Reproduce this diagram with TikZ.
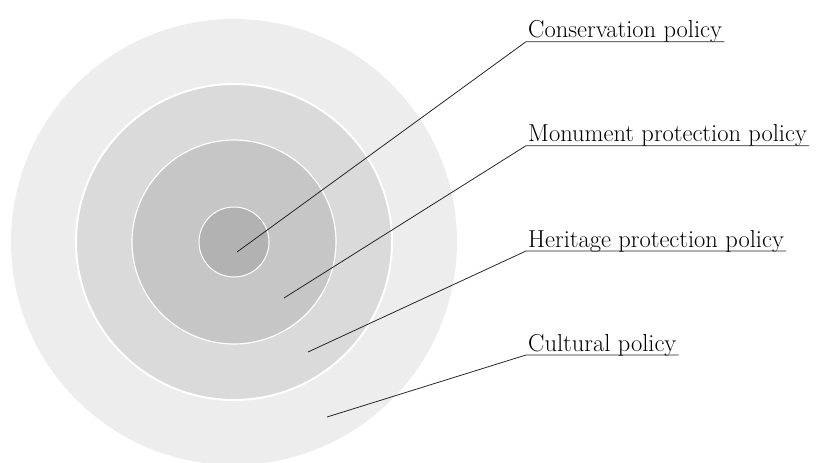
\documentclass[tikz,border=0pt]{standalone}
\usepackage{fontspec}
\tikzset{
  ring/.style={draw=white, line width=#1},
  lead/.style={draw=black!85, line width=0.8pt},
  tag/.style={anchor=south west, inner xsep=2pt, inner ysep=0pt, text depth=0.36em,
    font=\fontsize{24.5}{28}\selectfont}
}
\begin{document}
\begin{tikzpicture}[x=1pt,y=-1pt]
\useasboundingbox (0,0) rectangle (817,463);
\fill [black!7] (234,242) circle [radius=223pt];
\fill [black!14.5, ring=2pt] (234,242) circle [radius=158pt];
\fill [black!22.5, ring=1.2pt] (234,242) circle [radius=102pt];
\fill [black!30, ring=1pt] (234,242) circle [radius=35pt];
% leader ends
\coordinate (c1) at (237,252);
\coordinate (c2) at (284,298);
\coordinate (c3) at (308,352);
\coordinate (c4) at (327,417);
\node (t1) [tag] at (526,41.7) {Conservation policy};
\node (t2) [tag] at (526,145.7) {Monument protection policy};
\node (t3) [tag] at (526,251) {Heritage protection policy};
\node (t4) [tag] at (526,355) {Cultural policy};
\draw [lead] (c1) -- (t1.south west) -- (t1.south east);
\draw [lead] (c2) -- (t2.south west) -- (t2.south east);
\draw [lead] (c3) -- (t3.south west) -- (t3.south east);
\draw [lead] (c4) -- (t4.south west) -- (t4.south east);
\end{tikzpicture}
\end{document}
